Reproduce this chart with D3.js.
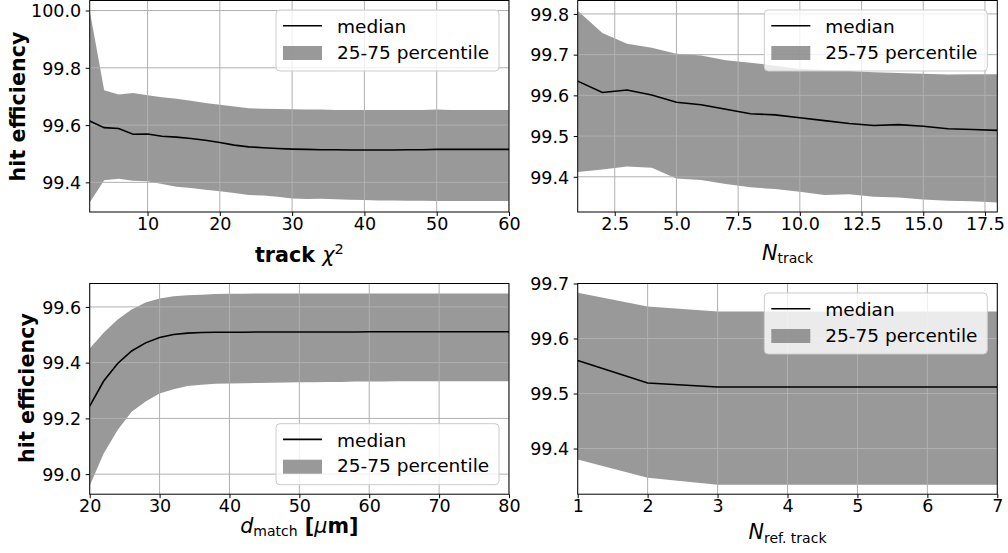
<!DOCTYPE html>
<html><head><meta charset="utf-8">
<script src="https://cdn.jsdelivr.net/npm/d3@7"></script>
<style>
body{margin:0;background:#fff}
svg{display:block}
text{font-family:"DejaVu Sans",sans-serif;fill:#000}
</style>
</head><body>
<svg id="c" width="1008" height="553"></svg>
<script>
// ---------------- data ----------------
const chi2X = [2,4,6,8,10,12,14,16,18,20,22,24,26,28,30,32,34,36,38,40,42,44,46,48,50,52,54,56,58,60];
const chi2Median = [99.614,99.591,99.588,99.568,99.569,99.561,99.558,99.553,99.547,99.539,99.530,99.524,99.521,99.518,99.516,99.515,99.514,99.514,99.513,99.513,99.513,99.513,99.514,99.514,99.515,99.515,99.515,99.515,99.515,99.515];
const chi2Upper = [100.0,99.722,99.707,99.712,99.704,99.697,99.692,99.685,99.677,99.671,99.665,99.659,99.657,99.656,99.655,99.654,99.654,99.653,99.653,99.653,99.653,99.653,99.653,99.653,99.654,99.653,99.653,99.653,99.653,99.653];
const chi2Lower = [99.330,99.407,99.413,99.406,99.404,99.394,99.385,99.380,99.374,99.369,99.363,99.356,99.354,99.350,99.344,99.342,99.343,99.341,99.339,99.338,99.337,99.337,99.336,99.336,99.335,99.335,99.335,99.335,99.335,99.335];

const nTrackX = [1,2,3,4,5,6,7,8,9,10,11,12,13,14,15,16,17,18];
const nTrackMedian = [99.635,99.607,99.613,99.601,99.583,99.577,99.566,99.555,99.552,99.545,99.538,99.531,99.526,99.528,99.524,99.518,99.516,99.514];
const nTrackUpper = [99.808,99.753,99.727,99.717,99.702,99.698,99.686,99.680,99.673,99.665,99.662,99.660,99.657,99.655,99.653,99.651,99.652,99.652];
const nTrackLower = [99.412,99.418,99.425,99.422,99.396,99.392,99.382,99.374,99.370,99.363,99.355,99.357,99.351,99.349,99.344,99.341,99.340,99.337];

const dMatchX = [20,22,24,26,28,30,32,34,36,38,40,42,44,46,48,50,52,54,56,58,60,62,64,66,68,70,72,74,76,78,80];
const dMatchMedian = [99.244,99.334,99.397,99.442,99.471,99.490,99.501,99.506,99.508,99.509,99.509,99.509,99.510,99.510,99.510,99.510,99.510,99.510,99.510,99.510,99.511,99.511,99.511,99.511,99.511,99.511,99.511,99.511,99.511,99.511,99.511];
const dMatchUpper = [99.451,99.507,99.555,99.591,99.616,99.630,99.638,99.642,99.644,99.646,99.647,99.647,99.648,99.648,99.648,99.648,99.648,99.648,99.648,99.648,99.648,99.648,99.648,99.648,99.648,99.648,99.648,99.648,99.648,99.648,99.648];
const dMatchLower = [98.958,99.074,99.158,99.224,99.261,99.289,99.305,99.316,99.321,99.324,99.325,99.326,99.327,99.328,99.329,99.330,99.330,99.331,99.331,99.332,99.332,99.332,99.333,99.333,99.333,99.333,99.333,99.333,99.333,99.333,99.333];

const nRefX = [1,2,3,4,5,6,7];
const nRefMedian = [99.560,99.519,99.512,99.512,99.512,99.512,99.512];
const nRefUpper = [99.683,99.658,99.649,99.649,99.649,99.649,99.649];
const nRefLower = [99.380,99.347,99.334,99.334,99.334,99.334,99.334];

// tick labels
const p1XTicks = [10,20,30,40,50,60];
const p1YTicks = [99.4,99.6,99.8,100.0];
const p2XTicks = [2.5,5.0,7.5,10.0,12.5,15.0,17.5];
const p2YTicks = [99.4,99.5,99.6,99.7,99.8];
const p3XTicks = [20,30,40,50,60,70,80];
const p3YTicks = [99.0,99.2,99.4,99.6];
const p4XTicks = [1,2,3,4,5,6,7];
const p4YTicks = [99.4,99.5,99.6,99.7];

const legendLabels = ["median","25-75 percentile"];
const yLabel = "hit efficiency";

// ---------------- drawing ----------------
const svg = d3.select("#c");
const fsTick = 17.5, fsLeg = 18.5, fsLab = 20.7;
const bandColor = "#808080";

function panel(cfg) {
  const {x, med, up, lo, box, xDom, yDom, xTicks, yTicks, xFmt, yFmt, legendPos} = cfg;
  const xs = d3.scaleLinear().domain(xDom).range([box.l, box.r]);
  const ys = d3.scaleLinear().domain(yDom).range([box.b, box.t]);
  const g = svg.append("g");
  const clipId = "clip" + cfg.id;
  g.append("clipPath").attr("id", clipId).append("rect")
    .attr("x", box.l).attr("y", box.t).attr("width", box.r - box.l).attr("height", box.b - box.t);
  const pts = x.map((v, i) => ({x: v, m: med[i], u: up[i], l: lo[i]}));
  const plot = g.append("g").attr("clip-path", `url(#${clipId})`);
  plot.append("path").datum(pts)
    .attr("d", d3.area().x(d => xs(d.x)).y0(d => ys(d.l)).y1(d => ys(d.u)))
    .attr("fill", bandColor).attr("fill-opacity", 0.8);
  // grid
  const grid = plot.append("g").attr("stroke", "#b0b0b0").attr("stroke-width", 1);
  xTicks.forEach(t => grid.append("line").attr("x1", xs(t)).attr("x2", xs(t)).attr("y1", box.t).attr("y2", box.b));
  yTicks.forEach(t => grid.append("line").attr("y1", ys(t)).attr("y2", ys(t)).attr("x1", box.l).attr("x2", box.r));
  plot.append("path").datum(pts)
    .attr("d", d3.line().x(d => xs(d.x)).y(d => ys(d.m)))
    .attr("fill", "none").attr("stroke", "#000").attr("stroke-width", 1.6);
  // axes
  const xa = d3.axisBottom(xs).tickValues(xTicks).tickFormat(xFmt).tickSize(4).tickPadding(4);
  const ya = d3.axisLeft(ys).tickValues(yTicks).tickFormat(yFmt).tickSize(4).tickPadding(4.5);
  const gx = g.append("g").attr("transform", `translate(0,${box.b})`).call(xa);
  const gy = g.append("g").attr("transform", `translate(${box.l},0)`).call(ya);
  [gx, gy].forEach(a => {
    a.select(".domain").remove();
    a.selectAll("line").attr("stroke", "#000").attr("stroke-width", 1);
    a.selectAll("text").attr("font-size", fsTick).attr("font-family", "DejaVu Sans").attr("fill", "#000");
  });
  gx.selectAll("text").attr("dy", null).attr("y", 17.8);
  gy.selectAll("text").attr("dy", "0.36em");
  // frame
  g.append("rect").attr("x", box.l).attr("y", box.t).attr("width", box.r - box.l).attr("height", box.b - box.t)
    .attr("fill", "none").attr("stroke", "#000").attr("stroke-width", 1);
  // legend
  const lw = 223, lh = 61;
  const lx = box.r - 10 - lw;
  const ly = legendPos === "upper" ? box.t + 9.5 : box.b - 9.5 - lh;
  const lg = g.append("g").attr("transform", `translate(${lx},${ly})`);
  lg.append("rect").attr("width", lw).attr("height", lh).attr("rx", 4)
    .attr("fill", "#fff").attr("fill-opacity", 0.8).attr("stroke", "#cccccc").attr("stroke-width", 1);
  lg.append("line").attr("x1", 7).attr("x2", 46).attr("y1", 15.7).attr("y2", 15.7)
    .attr("stroke", "#000").attr("stroke-width", 1.6);
  lg.append("rect").attr("x", 7).attr("y", 36).attr("width", 39).attr("height", 14)
    .attr("fill", bandColor).attr("fill-opacity", 0.8);
  lg.append("text").attr("x", 61).attr("y", 23).attr("font-size", fsLeg).text(legendLabels[0]);
  lg.append("text").attr("x", 61).attr("y", 48.5).attr("font-size", fsLeg).text(legendLabels[1]);
  return {g, box};
}

const f1 = d => d3.format(".1f")(d);
const f0 = d => d3.format("d")(d);

const P1 = panel({id: 1, x: chi2X, med: chi2Median, up: chi2Upper, lo: chi2Lower,
  box: {l: 89.7, r: 509, t: 0.5, b: 212}, xDom: [2, 60], yDom: [99.2965, 100.035],
  xTicks: p1XTicks, yTicks: p1YTicks, xFmt: f0, yFmt: f1, legendPos: "upper"});
const P2 = panel({id: 2, x: nTrackX, med: nTrackMedian, up: nTrackUpper, lo: nTrackLower,
  box: {l: 577.7, r: 997.3, t: 0.5, b: 212}, xDom: [1, 18], yDom: [99.3135, 99.833],
  xTicks: p2XTicks, yTicks: p2YTicks, xFmt: f1, yFmt: f1, legendPos: "upper"});
const P3 = panel({id: 3, x: dMatchX, med: dMatchMedian, up: dMatchUpper, lo: dMatchLower,
  box: {l: 89.7, r: 509, t: 283.5, b: 494.2}, xDom: [20, 80], yDom: [98.928, 99.684],
  xTicks: p3XTicks, yTicks: p3YTicks, xFmt: f0, yFmt: f1, legendPos: "lower"});
const P4 = panel({id: 4, x: nRefX, med: nRefMedian, up: nRefUpper, lo: nRefLower,
  box: {l: 577.7, r: 997.3, t: 283.5, b: 494.2}, xDom: [1, 7], yDom: [99.317, 99.7],
  xTicks: p4XTicks, yTicks: p4YTicks, xFmt: f0, yFmt: f1, legendPos: "upper"});

// y labels (matplotlib places them just left of the widest tick label)
[[P1, 25, 106.5], [P3, 34, 388]].forEach(([p, bx, cy]) => {
  svg.append("text").attr("transform", `translate(${bx},${cy}) rotate(-90)`)
    .attr("text-anchor", "middle").attr("font-size", fsLab).attr("font-weight", "bold").text(yLabel);
});

// x labels
function cx(p) { return (p.box.l + p.box.r) / 2; }
let t = svg.append("text").attr("x", cx(P1)).attr("y", 262).attr("text-anchor", "middle").attr("font-size", fsLab);
t.append("tspan").attr("font-weight", "bold").text("track ");
t.append("tspan").attr("font-style", "italic").text("χ");
t.append("tspan").attr("font-size", 14.5).attr("dy", -8).text("2");

t = svg.append("text").attr("x", cx(P2)).attr("y", 259.5).attr("text-anchor", "middle").attr("font-size", fsLab);
t.append("tspan").attr("font-style", "italic").text("N");
t.append("tspan").attr("font-size", 14).attr("dy", 3).text("track");

t = svg.append("text").attr("x", cx(P3)).attr("y", 533).attr("text-anchor", "middle").attr("font-size", fsLab);
t.append("tspan").attr("font-style", "italic").text("d");
t.append("tspan").attr("font-size", 14).attr("dy", 3).text("match");
t.append("tspan").attr("dy", -3).attr("font-weight", "bold").text(" [");
t.append("tspan").attr("font-style", "italic").text("μ");
t.append("tspan").attr("font-weight", "bold").text("m]");

t = svg.append("text").attr("x", cx(P4)).attr("y", 539).attr("text-anchor", "middle").attr("font-size", fsLab);
t.append("tspan").attr("font-style", "italic").text("N");
t.append("tspan").attr("font-size", 14).attr("dy", 3.5).text("ref. track");
</script>
</body></html>
